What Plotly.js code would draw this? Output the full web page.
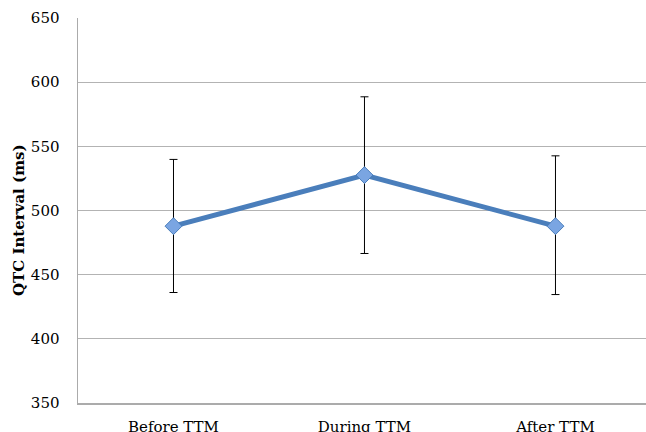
<!DOCTYPE html>
<html>
<head>
<meta charset="utf-8">
<script src="https://cdn.plot.ly/plotly-3.0.1.min.js"></script>
<style>html,body{margin:0;padding:0;background:#fff;}#chart{width:646px;height:432px;}</style>
</head>
<body>
<div id="chart"></div>
<script>
const categories = ["Before TTM", "During TTM", "After TTM"];
const qtcMean = [487.8, 527.6, 487.8];
const errPlus = [52.0, 61.0, 54.8];
const errMinus = [51.7, 61.1, 53.3];
const yTicks = [350, 400, 450, 500, 550, 600, 650];
const yTitle = "QTC Interval (ms)";

const font = "DejaVu Serif, Liberation Serif, serif";

const trace = {
  x: [0, 1, 2],
  y: qtcMean,
  type: "scatter",
  mode: "lines+markers",
  line: {color: "#4a7ebb", width: 5},
  marker: {symbol: "diamond", size: 13, color: "#7aa5e2", line: {color: "#4a7ebb", width: 1}},
  error_y: {type: "data", symmetric: false, array: errPlus, arrayminus: errMinus,
            color: "#000", thickness: 1, width: 4},
  hoverinfo: "skip"
};

const layout = {
  width: 646, height: 432,
  margin: {l: 78, r: 0, t: 18, b: 29},
  paper_bgcolor: "#fff", plot_bgcolor: "#fff",
  showlegend: false,
  xaxis: {
    range: [-0.5, 2.474],
    tickvals: [0, 1, 2], ticktext: categories,
    showgrid: false, zeroline: false,
    showline: true, linecolor: "#ababab", linewidth: 1.5,
    ticks: "", ticklabelstandoff: 9,
    tickfont: {family: font, size: 15, color: "#000"}
  },
  yaxis: {
    range: [350, 650],
    tickvals: yTicks,
    showgrid: true, gridcolor: "#b3b3b3", gridwidth: 1.3,
    zeroline: false,
    showline: true, linecolor: "#ababab", linewidth: 1.5,
    ticks: "", ticklabelstandoff: 14,
    tickfont: {family: font, size: 15, color: "#000"}
  },
  annotations: [{
    text: "<b>" + yTitle + "</b>", textangle: -90,
    xref: "paper", yref: "paper",
    x: -59/568, y: (403-220)/385, xanchor: "center", yanchor: "middle",
    showarrow: false, font: {family: font, size: 15, color: "#000"}
  }]
};

Plotly.newPlot("chart", [trace], layout, {staticPlot: true, displayModeBar: false});
</script>
</body>
</html>
